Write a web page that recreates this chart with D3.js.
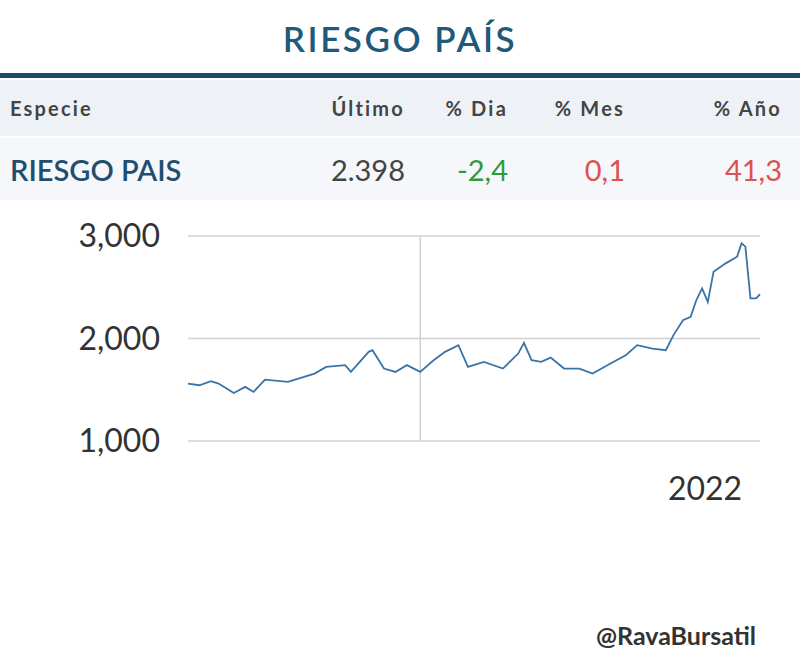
<!DOCTYPE html>
<html><head><meta charset="utf-8">
<script src="https://cdn.jsdelivr.net/npm/d3@7"></script>
<style>body{margin:0;background:#fff}</style>
</head><body>
<script>
// dias desde el inicio de la serie, y valor del riesgo pais
var dias = [0,18,36,48,72,90,103,121,157,199,217,247,256,284,290,308,326,344,365,386,404,425,440,465,495,519,528,540,555,570,591,615,636,664,688,706,730,751,763,778,790,799,808,817,826,845,863,870,876,884,893,899];
var valores = [1560,1544,1583,1560,1469,1528,1479,1599,1577,1658,1723,1740,1674,1870,1886,1707,1674,1740,1674,1788,1870,1935,1723,1772,1707,1853,1958,1788,1772,1814,1707,1707,1658,1756,1837,1935,1902,1886,2033,2179,2212,2375,2489,2358,2651,2733,2798,2928,2896,2391,2391,2433];
var yTicks = [1000, 2000, 3000];
var columnas = ["Especie", "Último", "% Dia", "% Mes", "% Año"];
var fila = ["RIESGO PAIS", "2.398", "-2,4", "0,1", "41,3"];
var colColor = ["#1f4e6e", "#444", "#2e9a3a", "#d9534f", "#d9534f"];

var svg = d3.select("body").append("svg").attr("width", 800).attr("height", 668)
    .style("font-family", "Lato");

svg.append("text").attr("x", 400).attr("y", 52).attr("text-anchor", "middle")
    .attr("font-size", 35).attr("font-weight", 600).attr("fill", "#1f5a7a")
    .attr("letter-spacing", 2.5).text("RIESGO PAÍS");
svg.append("rect").attr("x", 0).attr("y", 73).attr("width", 800).attr("height", 5).attr("fill", "#1e4a66");
svg.append("rect").attr("x", 0).attr("y", 80).attr("width", 800).attr("height", 56).attr("fill", "#eef2f6");
svg.append("rect").attr("x", 0).attr("y", 138).attr("width", 800).attr("height", 62).attr("fill", "#f5f7fa");

var colX = [10, 405, 508, 625, 782];
var anchors = ["start", "end", "end", "end", "end"];
columnas.forEach(function(c, i){
  svg.append("text").attr("x", colX[i]).attr("y", 116).attr("text-anchor", anchors[i])
    .attr("font-size", 20).attr("font-weight", "bold").attr("fill", "#444").attr("letter-spacing", 2.2).text(c);
});
fila.forEach(function(c, i){
  svg.append("text").attr("x", colX[i]).attr("y", 181).attr("text-anchor", anchors[i])
    .attr("font-size", 29).attr("font-weight", i == 0 ? 600 : "normal").attr("fill", colColor[i]).text(c);
});

var x = d3.scaleLinear().domain([0, 899]).range([188, 760]);
var y = d3.scaleLinear().domain([1000, 3000]).range([441, 236]);

svg.append("g").selectAll("line").data(yTicks).enter().append("line")
  .attr("x1", 188).attr("x2", 760).attr("y1", d => y(d)).attr("y2", d => y(d))
  .attr("stroke", "#d0d0d0").attr("stroke-width", 1.5);
svg.append("line").attr("x1", x(365)).attr("x2", x(365)).attr("y1", 236).attr("y2", 441)
  .attr("stroke", "#d0d0d0").attr("stroke-width", 1.5);
svg.append("g").selectAll("text").data(yTicks).enter().append("text")
  .attr("x", 160).attr("y", d => y(d) + 11).attr("text-anchor", "end")
  .attr("font-size", 32).attr("fill", "#333").text(d3.format(","));
svg.append("text").attr("x", 705).attr("y", 500).attr("text-anchor", "middle")
  .attr("font-size", 32).attr("fill", "#333").text("2022");

var pts = dias.map((d, i) => [d, valores[i]]);
svg.append("path").datum(pts).attr("fill", "none").attr("stroke", "#3a73a6").attr("stroke-width", 1.8)
  .attr("d", d3.line().x(d => x(d[0])).y(d => y(d[1])));

svg.append("text").attr("x", 756).attr("y", 645).attr("text-anchor", "end")
  .attr("font-size", 25).attr("font-weight", "bold").attr("fill", "#333").text("@RavaBursatil");
</script>
</body></html>
